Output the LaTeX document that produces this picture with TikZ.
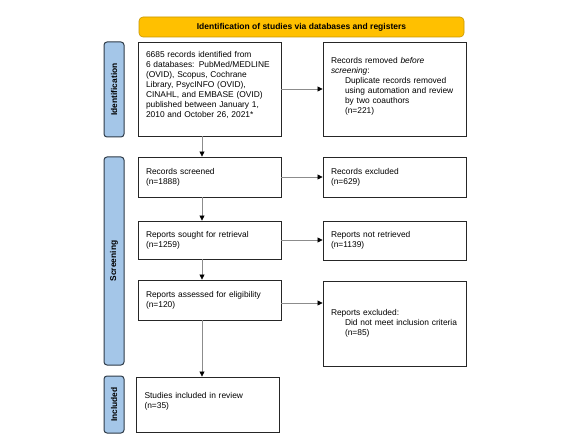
\documentclass[tikz,border=0pt]{standalone}
\usepackage{fontspec}
\setmainfont{Liberation Sans}
\usetikzlibrary{arrows.meta}
\definecolor{bannerfill}{HTML}{FFC000}
\definecolor{bannerdraw}{HTML}{C99700}
\definecolor{barfill}{HTML}{A4C6E8}
\definecolor{bardraw}{HTML}{2E3B48}
\definecolor{linegray}{HTML}{8C8C8C}
\tikzset{
  flowbox/.style={draw=black!85, line width=0.9pt, fill=white, inner xsep=8pt, inner ysep=3pt,
    align=left, font=\fontsize{8.4}{10}\selectfont, minimum width=143pt, text width=127pt},
  sidebar/.style={draw=bardraw, line width=1pt, fill=barfill, rounded corners=3pt, rotate=90,
    minimum height=20pt, inner sep=0pt, font=\fontsize{8.4}{10}\selectfont\bfseries},
  banner/.style={draw=bannerdraw, line width=0.6pt, fill=bannerfill, rounded corners=4pt,
    minimum width=325pt, minimum height=20pt, inner sep=0pt, font=\fontsize{8.5}{10}\selectfont\bfseries},
  flowarrow/.style={draw=linegray, line width=0.8pt, -{Triangle[length=5pt,width=5pt,color=black]}}
}
\begin{document}
\begin{tikzpicture}[x=1pt,y=-1pt]
\useasboundingbox (0,0) rectangle (563,441);
\fill[white] (0,0) rectangle (563,441);

\node[banner] (ban) at (301.5,27) {Identification of studies via databases and registers};

\node[sidebar, minimum width=95pt] (idbar) at (114,89.5) {Identification};
\node[sidebar, minimum width=208pt] (scrbar) at (114,261) {Screening};
\node[sidebar, minimum width=57pt] (incbar) at (114,404.5) {Included};

\node[flowbox, minimum height=94pt] (b1) at (209.5,89) {6685 records identified from\\\mbox{6 databases: PubMed/MEDLINE}\\(OVID), Scopus, Cochrane\\Library, PsycINFO (OVID),\\\mbox{CINAHL, and EMBASE (OVID)}\\published between January 1,\\2010 and October 26, 2021*\\\mbox{}};
\node[flowbox, minimum height=94pt] (rem) at (394.5,89) {Records removed \textit{before}\\\textit{screening}:\\\hspace*{14pt}\mbox{Duplicate records removed}\\\hspace*{14pt}\mbox{using automation and review}\\\hspace*{14pt}by two coauthors\\\hspace*{14pt}(n=221)\\[-3pt]\mbox{}};

\node[flowbox, minimum height=40pt] (scr) at (209.5,177) {Records screened\\(n=1888)};
\node[flowbox, minimum height=40pt] (exc) at (394.5,177) {Records excluded\\(n=629)};

\node[flowbox, minimum height=38pt] (sou) at (209.5,240) {Reports sought for retrieval\\(n=1259)};
\node[flowbox, minimum height=39pt] (ret) at (394.5,240.5) {Reports not retrieved\\(n=1139)};

\node[flowbox, minimum height=40pt] (ass) at (209.5,300) {\mbox{Reports assessed for eligibility}\\(n=120)};
\node[flowbox, minimum height=85pt] (rex) at (394.5,323.5) {Reports excluded:\\\hspace*{14pt}\mbox{Did not meet inclusion criteria}\\\hspace*{14pt}(n=85)};

\node[flowbox, minimum width=142pt, minimum height=55pt] (inc) at (208,404.5) {Studies included in review\\(n=35)\\[-1pt]\mbox{}};

\coordinate (ax) at (202,0);
\draw[flowarrow] (b1.south -| ax) -- (scr.north -| ax);
\draw[flowarrow] (scr.south -| ax) -- (sou.north -| ax);
\draw[flowarrow] (sou.south -| ax) -- (ass.north -| ax);
\draw[flowarrow] (ass.south -| ax) -- (inc.north -| ax);

\draw[flowarrow] (b1.east) -- (b1.east -| rem.west);
\draw[flowarrow] (scr.east) -- (scr.east -| exc.west);
\draw[flowarrow] (sou.east) -- (sou.east -| ret.west);
\draw[flowarrow] ([yshift=-3pt]ass.east) -- ([yshift=-3pt]ass.east -| rex.west);
\end{tikzpicture}
\end{document}
